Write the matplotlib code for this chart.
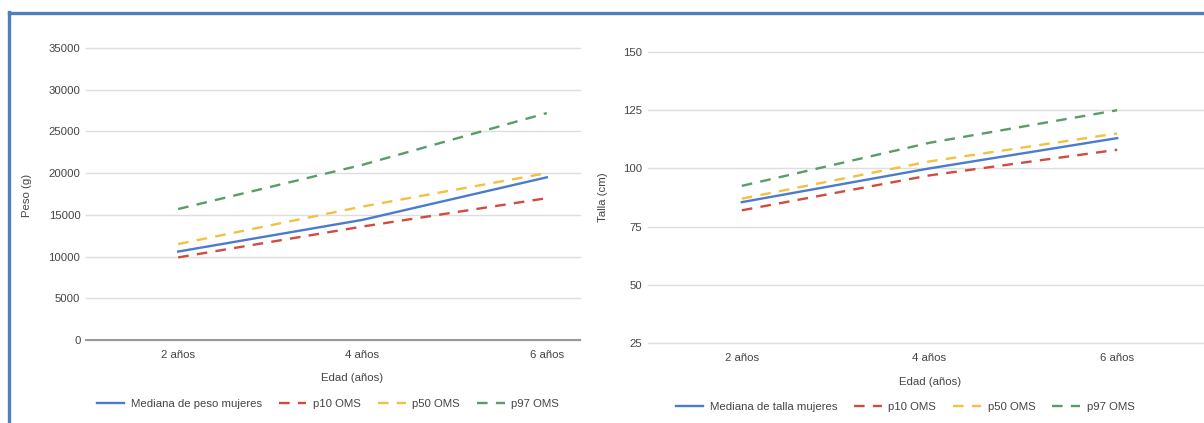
import matplotlib
matplotlib.use("Agg")
import matplotlib.pyplot as plt
from matplotlib.lines import Line2D

plt.rcParams['font.family'] = ['Liberation Sans', 'DejaVu Sans']

# Data
edades = ["2 años", "4 años", "6 años"]

peso_mediana = [10600, 14400, 19500]
peso_p10 = [9900, 13600, 17000]
peso_p50 = [11500, 16000, 20000]
peso_p97 = [15700, 21000, 27200]

talla_mediana = [85.5, 100, 113]
talla_p10 = [82, 97, 108]
talla_p50 = [87, 103, 115]
talla_p97 = [92.5, 111, 125]

# Styles
c_blue = "#4a7bd0"
c_red = "#d04b40"
c_yellow = "#f2c142"
c_green = "#5a9c68"
txt = "#444444"
grid_c = "#dedede"
fs = 8.2
dash = (0, (4.5, 3.5))

fig = plt.figure(figsize=(12.04, 4.23), dpi=100)


def draw(ax, ys, labels, ylim, yticks, baseline):
    x = range(len(edades))
    ax.plot(x, ys[0], color=c_blue, lw=1.7, label=labels[0], zorder=3)
    ax.plot(x, ys[1], color=c_red, lw=1.7, ls=dash, label=labels[1], zorder=3)
    ax.plot(x, ys[2], color=c_yellow, lw=1.7, ls=dash, label=labels[2], zorder=3)
    ax.plot(x, ys[3], color=c_green, lw=1.7, ls=dash, label=labels[3], zorder=3)
    ax.set_ylim(*ylim)
    ax.set_yticks(yticks)
    ax.set_xticks(list(x))
    ax.set_xticklabels(edades)
    for s in ax.spines.values():
        s.set_visible(False)
    ax.grid(axis='y', color=grid_c, lw=1.0)
    for gl in ax.get_ygridlines():
        gl.set_clip_on(False)
    ax.set_axisbelow(True)
    if baseline:
        ax.axhline(ylim[0], color="#999999", lw=1.5, zorder=2, clip_on=False)
    ax.tick_params(length=0, labelsize=fs, colors=txt)
    ax.tick_params(axis='y', pad=4)
    ax.tick_params(axis='x', pad=7)


# Left chart: peso
ax1 = fig.add_axes([86 / 1204, 83 / 423, 494 / 1204, 292 / 423])
draw(ax1, [peso_mediana, peso_p10, peso_p50, peso_p97],
     ["Mediana de peso mujeres", "p10 OMS", "p50 OMS", "p97 OMS"],
     (0, 35000), range(0, 35001, 5000), True)
ax1.set_xlim(-0.5, 2.18)

# Right chart: talla
ax2 = fig.add_axes([648 / 1204, 80 / 423, 563 / 1204, 291 / 423])
draw(ax2, [talla_mediana, talla_p10, talla_p50, talla_p97],
     ["Mediana de talla mujeres", "p10 OMS", "p50 OMS", "p97 OMS"],
     (25, 150), range(25, 151, 25), False)
ax2.set_xlim(-0.5, 2.5)

# Axis titles
fig.text(352 / 1204, 1 - 378 / 423, "Edad (años)", ha='center', va='center', fontsize=fs, color=txt)
fig.text(930 / 1204, 1 - 382 / 423, "Edad (años)", ha='center', va='center', fontsize=fs, color=txt)
fig.text(27 / 1204, 1 - 195 / 423, "Peso (g)", ha='center', va='center', rotation=90, fontsize=fs, color=txt)
fig.text(603 / 1204, 1 - 197 / 423, "Talla (cm)", ha='center', va='center', rotation=90, fontsize=fs, color=txt)

# Legends
for ax, cx, cy in [(ax1, 328 / 1204, 1 - 404 / 423), (ax2, 905 / 1204, 1 - 407 / 423)]:
    leg = ax.legend(loc='center', bbox_to_anchor=(cx, cy), bbox_transform=fig.transFigure,
                    ncol=4, frameon=False, fontsize=fs, handlelength=2.4,
                    columnspacing=1.5, handletextpad=0.6)
    for t in leg.get_texts():
        t.set_color(txt)

# Blue frame
fig.add_artist(Line2D([8.5 / 1204, 8.5 / 1204], [0, 1 - 12 / 423], color="#4f7fbf", lw=2.4,
                      transform=fig.transFigure, solid_capstyle='projecting'))
fig.add_artist(Line2D([8.5 / 1204, 1], [1 - 13.5 / 423, 1 - 13.5 / 423], color="#4f7fbf", lw=2.4,
                      transform=fig.transFigure, solid_capstyle='projecting'))

fig.savefig("out.png", dpi=100)
